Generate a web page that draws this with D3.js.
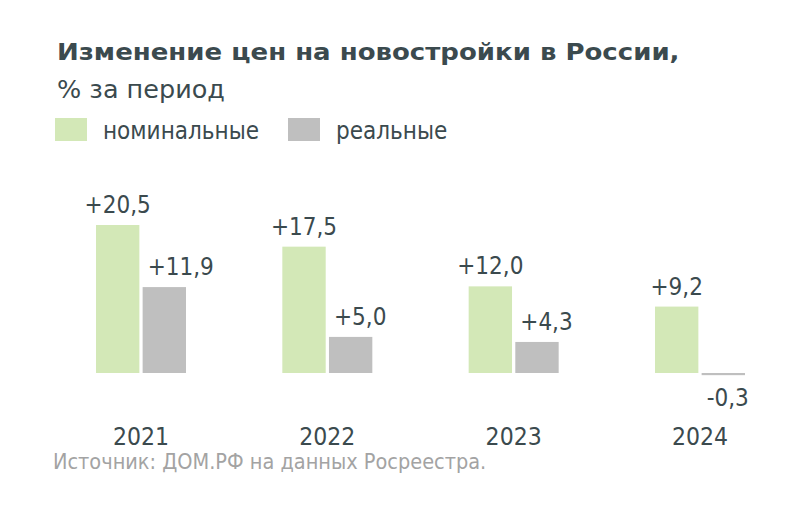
<!DOCTYPE html>
<html>
<head>
<meta charset="utf-8">
<script src="https://cdn.jsdelivr.net/npm/d3@7"></script>
<style>
  html, body { margin: 0; padding: 0; background: #ffffff; }
  svg { display: block; }
  text { font-family: "DejaVu Sans Condensed", "DejaVu Sans", sans-serif; }
</style>
</head>
<body>
<svg id="chart" width="800" height="521"></svg>
<script>
const years = ["2021", "2022", "2023", "2024"];
const nominal = [20.5, 17.5, 12.0, 9.2];
const real = [11.9, 5.0, 4.3, -0.3];
const seriesKeys = ["nominal", "real"];
const seriesNames = ["номинальные", "реальные"];
const seriesColors = ["#d3e8b7", "#bfbfbf"];
const titleText = "Изменение цен на новостройки в России,";
const subtitleText = "% за период";
const sourceText = "Источник: ДОМ.РФ на данных Росреестра.";

const textColor = "#3b4a4e";
const fmt = v => (v > 0 ? "+" : (v < 0 ? "-" : "")) + Math.abs(v).toFixed(1).replace(".", ",");

const svg = d3.select("#chart");
svg.append("rect").attr("width", 800).attr("height", 521).attr("fill", "#fff");

// stretch a text horizontally to a target width, anchored at its x
function fitWidth(sel, x, y, w) {
  const nat = sel.node().getComputedTextLength();
  const k = w / nat;
  sel.attr("x", 0).attr("y", 0).attr("transform", `translate(${x},${y}) scale(${k},1)`);
}

// Title
const title = svg.append("text")
  .attr("font-family", "'DejaVu Sans', sans-serif")
  .attr("font-size", 23).attr("font-weight", "bold").attr("fill", textColor)
  .text(titleText);
fitWidth(title, 57, 60, 623);

const sub = svg.append("text")
  .attr("font-family", "'DejaVu Sans', sans-serif")
  .attr("font-size", 25).attr("fill", textColor)
  .text(subtitleText);
fitWidth(sub, 57, 98, 168);

// Legend
const legendX = [55, 288];
seriesNames.forEach((name, i) => {
  svg.append("rect").attr("x", legendX[i]).attr("y", 118).attr("width", 32).attr("height", 23)
    .attr("fill", seriesColors[i]);
  svg.append("text").attr("x", legendX[i] + 48).attr("y", 138.5)
    .attr("font-size", 24).attr("fill", textColor).text(name);
});

// Scales
const x0 = d3.scaleBand().domain(years).range([96, 745]).paddingInner(0.517).paddingOuter(0);
const x1 = d3.scaleBand().domain(seriesKeys).range([0, x0.bandwidth()]).paddingInner(0.07);
const y = d3.scaleLinear().domain([0, 20.5]).range([373, 225]);

const data = years.map((yr, i) => ({ year: yr, values: [
  { key: "nominal", value: nominal[i] },
  { key: "real", value: real[i] }
]}));

const groups = svg.append("g").selectAll("g").data(data).join("g")
  .attr("transform", d => `translate(${x0(d.year)},0)`);

groups.selectAll("rect").data(d => d.values).join("rect")
  .attr("x", d => x1(d.key))
  .attr("y", d => y(Math.max(0, d.value)))
  .attr("width", x1.bandwidth())
  .attr("height", d => Math.abs(y(d.value) - y(0)))
  .attr("fill", (d, i) => seriesColors[i]);

groups.selectAll("text.val").data(d => d.values).join("text")
  .attr("class", "val")
  .attr("x", d => d.key === "nominal" ? x1(d.key) + x1.bandwidth() / 2 : x1(d.key) + 5)
  .attr("y", d => d.value >= 0 ? y(d.value) - 12 : y(d.value) + 31)
  .attr("text-anchor", d => d.key === "nominal" ? "middle" : "start")
  .attr("font-size", 24).attr("fill", textColor)
  .text(d => fmt(d.value));

// Year axis labels
const xAxis = d3.axisBottom(x0).tickSize(0).tickPadding(0);
const ax = svg.append("g").attr("transform", "translate(0,426)").call(xAxis);
ax.select(".domain").remove();
ax.selectAll("text").attr("font-size", 24.5).attr("fill", textColor)
  .attr("font-family", null).attr("dy", null).attr("y", 18.5);

// Source
svg.append("text").attr("x", 53).attr("y", 468.5)
  .attr("font-size", 21.5).attr("fill", "#a3a3a3").text(sourceText);
</script>
</body>
</html>
